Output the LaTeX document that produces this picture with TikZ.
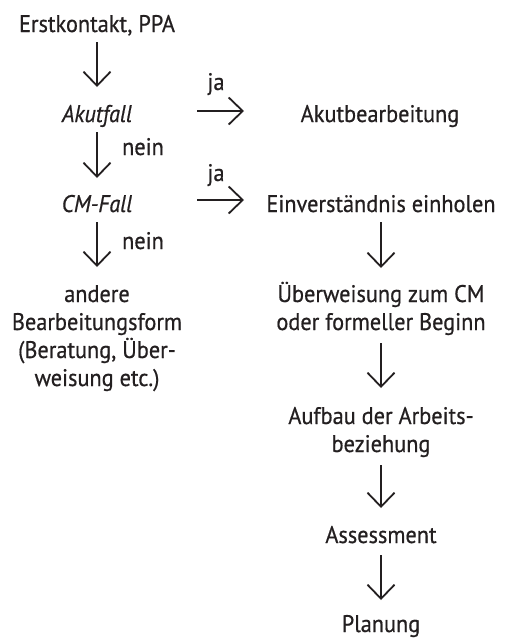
\documentclass[tikz,border=0pt]{standalone}
\usepackage{fontspec}
\setmainfont[FakeStretch=0.93,FakeBold=0.6]{PT Sans}
\usetikzlibrary{arrows.meta}
\definecolor{ink}{RGB}{35,31,32}
\begin{document}
\begin{tikzpicture}[x=1pt,y=-1pt,
  txt/.style={inner sep=0pt, anchor=base, align=center, text=ink, font=\fontsize{24}{28}\selectfont},
  arr/.style={draw=ink, line width=1.8pt, -{Straight Barb[length=14pt,width=27pt]}},
]
\useasboundingbox (0,0) rectangle (506,638);
\node[txt] (erst) at (97,32) {Erstkontakt, PPA};
\node[txt] (akut) at (97,122) {\itshape Akutfall};
\node[txt] (akutb) at (380,122) {Akutbearbeitung};
\node[txt] (cm) at (97,212) {\itshape CM-Fall};
\node[txt] (einv) at (381,212) {Einverständnis einholen};
\node[txt] (andere) at (97,386) {andere\\Bearbeitungsform\\(Beratung, Über-\\weisung etc.)};
\node[txt] (ueber) at (381,330) {Überweisung zum CM\\oder formeller Beginn};
\node[txt] (aufbau) at (381,452) {Aufbau der Arbeits-\\beziehung};
\node[txt] (assess) at (381,543) {Assessment};
\node[txt] (plan) at (381,632) {Planung};
\node[txt] (ja1) at (216,90) {ja};
\node[txt] (ja2) at (216,181) {ja};
\node[txt] (nein1) at (143,155) {nein};
\node[txt] (nein2) at (143,249) {nein};
\draw[arr, shorten <=10pt, shorten >=35pt] (erst.base) -- (akut.base);
\draw[arr, shorten <=10pt, shorten >=34pt] (akut.base) -- (cm.base);
\draw[arr, shorten <=10pt, shorten >=119pt] (cm.base) -- (andere.base);
\draw[arr, shorten <=10pt, shorten >=62pt] (einv.base) -- (ueber.base);
\draw[arr, shorten <=13pt, shorten >=64pt] (ueber.base) -- (aufbau.base);
\draw[arr, shorten <=13pt, shorten >=35pt] (aufbau.base) -- (assess.base);
\draw[arr, shorten <=12pt, shorten >=32pt] (assess.base) -- (plan.base);
\draw[arr, shorten <=100pt, shorten >=136pt] ([yshift=11pt]akut.base) -- ([yshift=11pt]akutb.base);
\draw[arr, shorten <=100pt, shorten >=137pt] ([yshift=12pt]cm.base) -- ([yshift=12pt]einv.base);
\end{tikzpicture}
\end{document}
